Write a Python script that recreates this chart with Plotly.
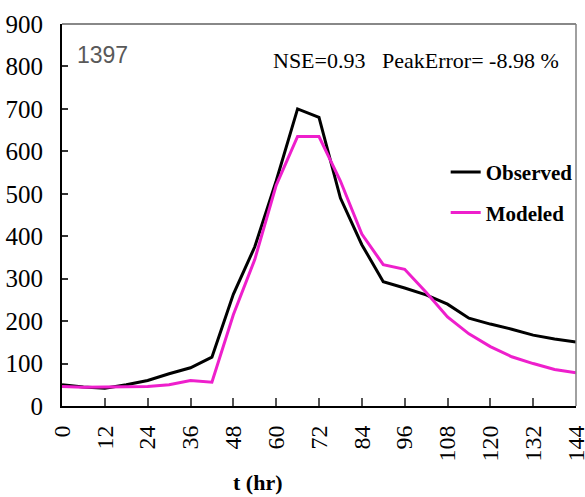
import plotly.graph_objects as go

t = [0, 6, 12, 18, 24, 30, 36, 42, 48, 54, 60, 66, 72, 78, 84, 90, 96, 102, 108, 114, 120, 126, 132, 138, 144]
observed = [50, 45, 42, 50, 60, 76, 90, 115, 263, 375, 530, 700, 680, 490, 380, 293, 278, 262, 240, 207, 193, 181, 167, 158, 151]
modeled = [46, 44, 45, 46, 46, 50, 60, 56, 215, 345, 520, 635, 635, 530, 405, 333, 322, 268, 210, 170, 140, 116, 100, 86, 78]
x_ticks = [0, 12, 24, 36, 48, 60, 72, 84, 96, 108, 120, 132, 144]
y_ticks = [0, 100, 200, 300, 400, 500, 600, 700, 800, 900]

fig = go.Figure()
fig.add_trace(go.Scatter(x=t, y=observed, mode="lines", name="Observed", legendgroup="o",
                         line=dict(color="black", width=3)))
fig.add_trace(go.Scatter(x=t, y=modeled, mode="lines", name="Modeled", legendgroup="m",
                         line=dict(color="#EE1FCC", width=3)))

serif = "Liberation Serif"
fig.update_layout(
    width=585, height=497,
    margin=dict(l=62, r=8, t=24, b=91),
    paper_bgcolor="white", plot_bgcolor="white",
    font=dict(family=serif, color="black"),
    showlegend=True,
    legend=dict(x=0.745, y=0.665, xanchor="left", yanchor="top",
                font=dict(family=serif, size=21, color="black", weight="bold"),
                bgcolor="rgba(0,0,0,0)", itemwidth=30, tracegroupgap=10),
    xaxis=dict(range=[0, 144], tickvals=x_ticks, ticktext=[str(v) for v in x_ticks],
               tickangle=-90, ticks="inside", ticklen=8, tickcolor="#555555", tickwidth=1.5,
               showline=True, linecolor="black", linewidth=2, showgrid=False, zeroline=False,
               tickfont=dict(size=24, color="black", family=serif),
               ticklabelstandoff=8, ticklabeloverflow="allow", automargin=False),
    yaxis=dict(range=[0, 900], tickvals=y_ticks, ticks="inside", ticklen=6, tickcolor="#333333",
               tickwidth=1.5, showline=True, linecolor="black", linewidth=2, showgrid=False,
               zeroline=False, tickfont=dict(size=25, color="black", family=serif),
               ticklabelstandoff=12, automargin=False),
)
# top/right border in gray
fig.add_shape(type="line", xref="paper", yref="paper", x0=0, x1=1, y0=1, y1=1,
              line=dict(color="#606060", width=1.5))
fig.add_shape(type="line", xref="paper", yref="paper", x0=1, x1=1, y0=0, y1=1,
              line=dict(color="#808080", width=1.5))

fig.add_annotation(text="1397", xref="paper", yref="paper", x=0.025, y=0.92,
                   xanchor="left", yanchor="middle", showarrow=False,
                   font=dict(family="Liberation Sans", size=23, color="#595959"))
fig.add_annotation(text="NSE=0.93   PeakError= -8.98 %", xref="paper", yref="paper", x=0.97, y=0.905,
                   xanchor="right", yanchor="middle", showarrow=False,
                   font=dict(family=serif, size=22, color="black"))
fig.add_annotation(text="<b>t (hr)</b>", xref="paper", yref="paper", x=0.38, y=-0.2,
                   xanchor="center", yanchor="middle", showarrow=False,
                   font=dict(family=serif, size=22, color="black"))

fig.write_html("out.html")
